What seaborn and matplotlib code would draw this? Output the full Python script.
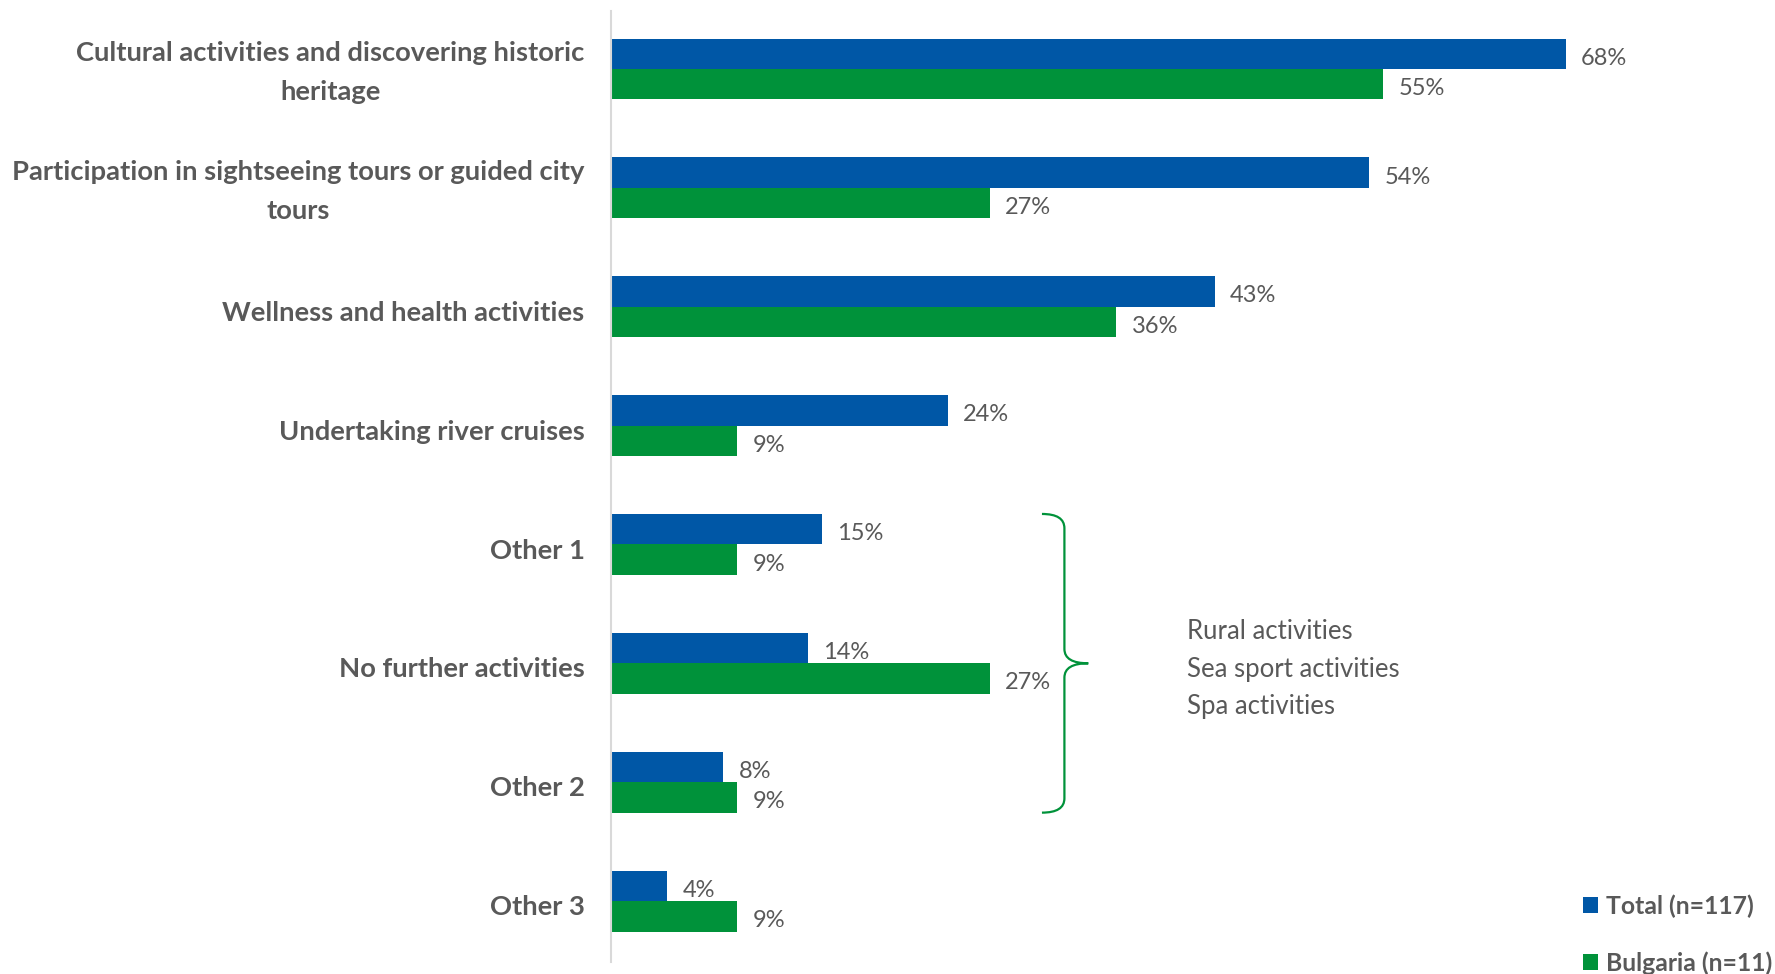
import matplotlib
matplotlib.use("Agg")
import matplotlib.pyplot as plt
import matplotlib.transforms as mtransforms
import seaborn as sns
import pandas as pd
from matplotlib.path import Path
from matplotlib.patches import PathPatch, Patch

# Survey: additional activities undertaken during the trip (% of respondents)
categories = [
    "Cultural activities and discovering historic\nheritage",
    "Participation in sightseeing tours or guided city\ntours",
    "Wellness and health activities",
    "Undertaking river cruises",
    "Other 1",
    "No further activities",
    "Other 2",
    "Other 3",
]
total_values = [68, 54, 43, 24, 15, 14, 8, 4]
bulgaria_values = [55, 27, 36, 9, 9, 27, 9, 9]
series_names = ["Total (n=117)", "Bulgaria (n=11)"]
other_items = ["Rural activities", "Sea sport activities", "Spa activities"]

BLUE = "#0057A6"
GREEN = "#00923A"
GRAY = "#595959"

sns.set_theme(style="white")
plt.rcParams["font.family"] = ["Lato", "DejaVu Sans"]

df = pd.DataFrame({
    "activity": categories * 2,
    "share": total_values + bulgaria_values,
    "series": [series_names[0]] * len(categories) + [series_names[1]] * len(categories),
})

W, H = 1775, 974
fig = plt.figure(figsize=(W / 100, H / 100), dpi=100)
ax = fig.add_axes([611 / W, 1 - 962 / H, (1734 - 611) / W, (962 - 11) / H])

group_width = 0.513
sns.barplot(
    data=df, y="activity", x="share", hue="series",
    order=categories, hue_order=series_names,
    palette=[BLUE, GREEN], width=group_width, saturation=1,
    orient="h", linewidth=0, legend=False, ax=ax,
)

ax.set_xlim(0, 80)
ax.set_ylim(len(categories) - 0.487, -0.488)

for c in ax.containers:
    anns = ax.bar_label(c, labels=[f"{v:.0f}%" for v in c.datavalues],
                        padding=11, fontsize=17, color=GRAY)
    for a in anns:
        a.xyann = (11, -3.2)

ax.set_xlabel("")
ax.set_ylabel("")
ax.set_xticks([])
ax.tick_params(axis="y", length=0, pad=19)
for lbl in ax.get_yticklabels():
    lbl.set_fontsize(19.7)
    lbl.set_fontweight("bold")
    lbl.set_color(GRAY)
    lbl.set_multialignment("center")
    lbl.set_linespacing(1.75)
    # keep each label block centred on its pair of bars
    dy_pt = 4.2 if "\n" in lbl.get_text() else -3.0
    shift = mtransforms.ScaledTranslation(0, dy_pt / 72, fig.dpi_scale_trans)
    lbl.set_transform(lbl.get_transform() + shift)

for side in ["top", "right", "bottom"]:
    ax.spines[side].set_visible(False)
ax.spines["left"].set_color("#D9D9D9")
ax.spines["left"].set_linewidth(1.5)

# Curly brace grouping the "Other" answers
bar_w = group_width / 2
y_top, y_mid, y_bot = 4 - bar_w, 5, 6 + bar_w
x_end, x_spine, x_tip = 30.7, 32.3, 34.0
dy = 0.12
verts = [
    (x_end, y_top), (x_spine, y_top), (x_spine, y_top + dy),
    (x_spine, y_mid - dy), (x_spine, y_mid), (x_tip, y_mid),
    (x_spine, y_mid), (x_spine, y_mid + dy),
    (x_spine, y_bot - dy), (x_spine, y_bot), (x_end, y_bot),
]
codes = [
    Path.MOVETO, Path.CURVE3, Path.CURVE3,
    Path.LINETO, Path.CURVE3, Path.CURVE3,
    Path.CURVE3, Path.CURVE3,
    Path.LINETO, Path.CURVE3, Path.CURVE3,
]
ax.add_patch(PathPatch(Path(verts, codes), facecolor="none",
                       edgecolor=GREEN, linewidth=1.6, clip_on=False))

for i, item in enumerate(other_items):
    ax.text(41.0, y_mid + 0.048 + (i - 1) * 0.315, item, fontsize=18.5,
            color=GRAY, va="center", ha="left")

handles = [Patch(facecolor=BLUE, edgecolor="none"), Patch(facecolor=GREEN, edgecolor="none")]
fig.legend(handles, series_names, loc="center left",
           bbox_to_anchor=(1583 / W, 1 - 934.5 / H), frameon=False,
           handlelength=0.62, handleheight=0.62, handletextpad=0.3,
           labelspacing=1.35, borderpad=0, borderaxespad=0,
           prop={"weight": "bold", "size": 17.8}, labelcolor=GRAY)

fig.savefig("out.png", dpi=100)
